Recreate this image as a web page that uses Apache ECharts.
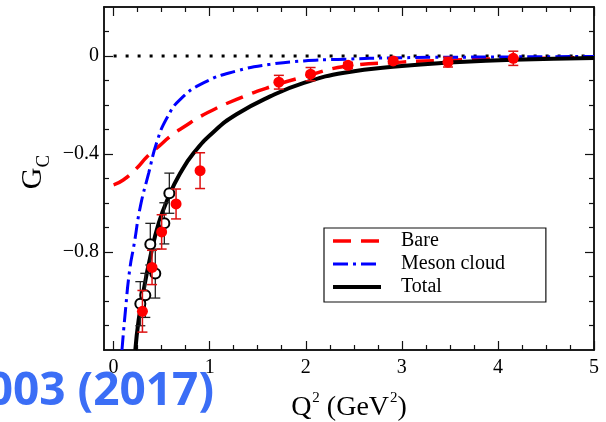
<!DOCTYPE html>
<html><head><meta charset="utf-8">
<script src="https://cdn.jsdelivr.net/npm/echarts@6/dist/echarts.min.js"></script>
<style>html,body{margin:0;padding:0;background:#fff}#c{width:606px;height:422px}</style>
</head><body><div id="c"></div>
<script>
// Tick values
const xMajorTicks = [0, 1, 2, 3, 4, 5];
const xMinorTicks = [0.25, 0.5, 0.75, 1.25, 1.5, 1.75, 2.25, 2.5, 2.75, 3.25, 3.5, 3.75, 4.25, 4.5, 4.75];
const yMajorTicks = [-0.8, -0.4, 0];
const yMinorTicks = [-1.1, -1.0, -0.9, -0.7, -0.6, -0.5, -0.3, -0.2, -0.1, 0.1];

// Curves [Q2, Gc]
const bareCurve = [[0, -0.526], [0.1, -0.506], [0.24, -0.458], [0.35, -0.41], [0.47, -0.369], [0.59, -0.328],
  [0.73, -0.29], [0.94, -0.239], [1.28, -0.177], [1.63, -0.126], [1.98, -0.085], [2.4, -0.043],
  [3.0, -0.025], [3.5, -0.017], [4.0, -0.012], [4.5, -0.009], [5.0, -0.006]];
const mesonCurve = [[0.087, -1.2], [0.12, -1.052], [0.167, -0.874], [0.215, -0.765], [0.278, -0.615],
  [0.365, -0.478], [0.451, -0.35], [0.556, -0.252], [0.694, -0.177], [0.94, -0.109], [1.28, -0.061],
  [1.63, -0.034], [1.98, -0.02], [2.33, -0.014], [3.0, -0.007], [4.0, -0.004], [5.0, -0.002]];
const totalCurve = [[0.226, -1.2], [0.26, -1.079], [0.3125, -0.956], [0.382, -0.82], [0.469, -0.683],
  [0.573, -0.574], [0.694, -0.478], [0.833, -0.396], [1.04, -0.31], [1.28, -0.238], [1.63, -0.165],
  [1.98, -0.11], [2.4, -0.068], [3.0, -0.041], [3.5, -0.027], [4.16, -0.015], [5.0, -0.008]];
const zeroLine = [[0, 0], [5, 0]];

// Data points [Q2, Gc, error]
const redPoints = [[0.30, -1.042, 0.085], [0.40, -0.863, 0.07], [0.50, -0.718, 0.07], [0.65, -0.604, 0.061],
  [0.90, -0.468, 0.073], [1.72, -0.107, 0.028], [2.05, -0.074, 0.027], [2.44, -0.038, 0.012],
  [2.91, -0.020, 0.012], [3.48, -0.025, 0.02], [4.16, -0.0094, 0.029]];
const openPoints = [[0.278, -1.011, 0.09], [0.33, -0.977, 0.09], [0.382, -0.768, 0.085], [0.434, -0.888, 0.1],
  [0.528, -0.683, 0.084], [0.58, -0.56, 0.082]];

const FRAME = '#111';
const serif = 'Liberation Serif';
const lineCfg = {show: true, onZero: false, lineStyle: {color: FRAME, width: 1.5}};
function fmtY(v) { return v < 0 ? '\u2212' + Math.abs(v) : String(v); }
function xAx(grid, pos, ticks, len, labels) {
  return {type: 'value', gridIndex: grid, position: pos, min: -0.1, max: 5,
    axisLine: lineCfg, splitLine: {show: false},
    axisTick: {show: true, inside: true, length: len, customValues: ticks, lineStyle: {color: FRAME, width: 1.2}},
    axisLabel: labels ? {show: true, customValues: xMajorTicks, margin: 8, color: '#000', fontFamily: serif, fontSize: 20} : {show: false}
  };
}
function yAx(grid, pos, ticks, len, labels) {
  return {type: 'value', gridIndex: grid, position: pos, min: -1.2, max: 0.2,
    axisLine: lineCfg, splitLine: {show: false},
    axisTick: {show: true, inside: true, length: len, customValues: ticks, lineStyle: {color: FRAME, width: 1.2}},
    axisLabel: labels ? {show: true, customValues: yMajorTicks, margin: 5, color: '#000', fontFamily: serif, fontSize: 20, formatter: fmtY} : {show: false}
  };
}
function errRender(color, lw) {
  return function (params, api) {
    const x = api.value(0), y = api.value(1), e = api.value(2);
    const t = api.coord([x, y + e]), b = api.coord([x, y - e]);
    const hw = 5;
    const st = {stroke: color, lineWidth: lw};
    return {type: 'group', children: [
      {type: 'line', shape: {x1: t[0], y1: t[1], x2: b[0], y2: b[1]}, style: st},
      {type: 'line', shape: {x1: t[0] - hw, y1: t[1], x2: t[0] + hw, y2: t[1]}, style: st},
      {type: 'line', shape: {x1: b[0] - hw, y1: b[1], x2: b[0] + hw, y2: b[1]}, style: st}
    ]};
  };
}

// Title with superscripts: laid out piece by piece on a shared baseline
const mctx = document.createElement('canvas').getContext('2d');
function pieceMetrics(font, s) {
  mctx.font = font;
  mctx.textBaseline = 'alphabetic';
  const a = mctx.measureText(s);
  mctx.textBaseline = 'middle';
  const m = mctx.measureText(s);
  return {w: a.width, off: a.actualBoundingBoxAscent - m.actualBoundingBoxAscent};
}
function superTitle(pieces, cx, baseline, supRaise) {
  const big = '28px "Liberation Serif"', small = '15px "Liberation Serif"';
  const ms = pieces.map(p => Object.assign({font: p.sup ? small : big}, p, pieceMetrics(p.sup ? small : big, p.t)));
  const W = ms.reduce((s, p) => s + p.w + (p.sup ? 1 : 0), 0);
  let x = cx - W / 2;
  const children = [];
  ms.forEach(p => {
    const b = p.sup ? baseline - supRaise : baseline;
    children.push({type: 'text', x: x + (p.sup ? 1 : 0), y: b - p.off, z: 10,
      style: {text: p.t, font: p.font, fill: '#000', align: 'left', verticalAlign: 'middle'}});
    x += p.w + (p.sup ? 1 : 0);
  });
  return {type: 'group', children: children};
}
const xTitle = superTitle([{t: 'Q'}, {t: '2', sup: true}, {t: ' (GeV'}, {t: '2', sup: true}, {t: ')'}], 349, 415, 13);

const gridRect = {left: 104, top: 7, width: 490, height: 343};
const chart = echarts.init(document.getElementById('c'), null, {renderer: 'canvas'});
chart.setOption({
  animation: false,
  backgroundColor: '#fff',
  grid: [Object.assign({}, gridRect), Object.assign({}, gridRect)],
  xAxis: [xAx(0, 'bottom', xMajorTicks, 9, true), xAx(0, 'top', xMajorTicks, 9, false),
          xAx(1, 'bottom', xMinorTicks, 5, false), xAx(1, 'top', xMinorTicks, 5, false)],
  yAxis: [yAx(0, 'left', yMajorTicks, 9, true), yAx(0, 'right', yMajorTicks, 9, false),
          yAx(1, 'left', yMinorTicks, 5, false), yAx(1, 'right', yMinorTicks, 5, false)],
  legend: {
    data: [
      {name: 'Bare', itemStyle: {opacity: 0}, lineStyle: {color: '#ff0000', width: 3.5, type: [18, 10]}},
      {name: 'Meson cloud', itemStyle: {opacity: 0}, lineStyle: {color: '#0000ff', width: 3, type: [15, 5, 3, 5]}},
      {name: 'Total', itemStyle: {opacity: 0}, lineStyle: {color: '#000', width: 4, type: 'solid'}}
    ],
    orient: 'vertical', left: 324, top: 228,
    padding: [3, 41, 5, 7], itemGap: 3, itemWidth: 48, itemHeight: 14,
    borderColor: FRAME, borderWidth: 1.2, selectedMode: false,
    itemStyle: {opacity: 0},
    textStyle: {fontFamily: serif, fontSize: 20, color: '#000', padding: [0, 0, 0, 15]}
  },
  graphic: [
    {type: 'text', x: 33, y: 172, rotation: Math.PI / 2, z: 10,
      style: {text: '{g|G}{s|C}', align: 'center', verticalAlign: 'middle',
        rich: {g: {fontFamily: serif, fontSize: 30, fill: '#000'},
               s: {fontFamily: serif, fontSize: 19, fill: '#000', verticalAlign: 'bottom', padding: [0, 0, -6, 0]}}}},
    xTitle,
    {type: 'text', x: 214, y: 392, z: 20,
      style: {text: '003 (2017)', align: 'right', verticalAlign: 'middle',
        font: 'bold 46px "Open Sans"', fill: '#3b6ef6'}}
  ],
  series: [
    {name: 'zero', type: 'line', data: zeroLine, symbol: 'none', silent: true, z: 1,
      lineStyle: {color: '#000', width: 3, type: [3, 9], cap: 'butt'}},
    {name: 'Bare', type: 'line', data: bareCurve, symbol: 'none', smooth: 0.5, z: 2,
      lineStyle: {color: '#ff0000', width: 3.5, type: [18, 10]}, itemStyle: {color: '#ff0000'}},
    {name: 'Meson cloud', type: 'line', data: mesonCurve, symbol: 'none', smooth: 0.5, z: 2,
      lineStyle: {color: '#0000ff', width: 3, type: [15, 5, 3, 5]}, itemStyle: {color: '#0000ff'}},
    {name: 'Total', type: 'line', data: totalCurve, symbol: 'none', smooth: 0.5, z: 3,
      lineStyle: {color: '#000', width: 4}, itemStyle: {color: '#000'}},
    {name: 'openErr', type: 'custom', data: openPoints, renderItem: errRender('#222', 1.3), encode: {x: 0, y: 1}, z: 4, silent: true},
    {name: 'open', type: 'scatter', data: openPoints.map(p => [p[0], p[1]]), symbol: 'emptyCircle', symbolSize: 10, z: 4,
      itemStyle: {color: '#000', borderColor: '#000', borderWidth: 1, opacity: 1}},
    {name: 'redErr', type: 'custom', data: redPoints, renderItem: errRender('#dd1111', 1.5), encode: {x: 0, y: 1}, z: 5, silent: true},
    {name: 'red', type: 'scatter', data: redPoints.map(p => [p[0], p[1]]), symbol: 'circle', symbolSize: 11, z: 6,
      itemStyle: {color: '#ff0000', opacity: 1}}
  ]
});
</script></body></html>
